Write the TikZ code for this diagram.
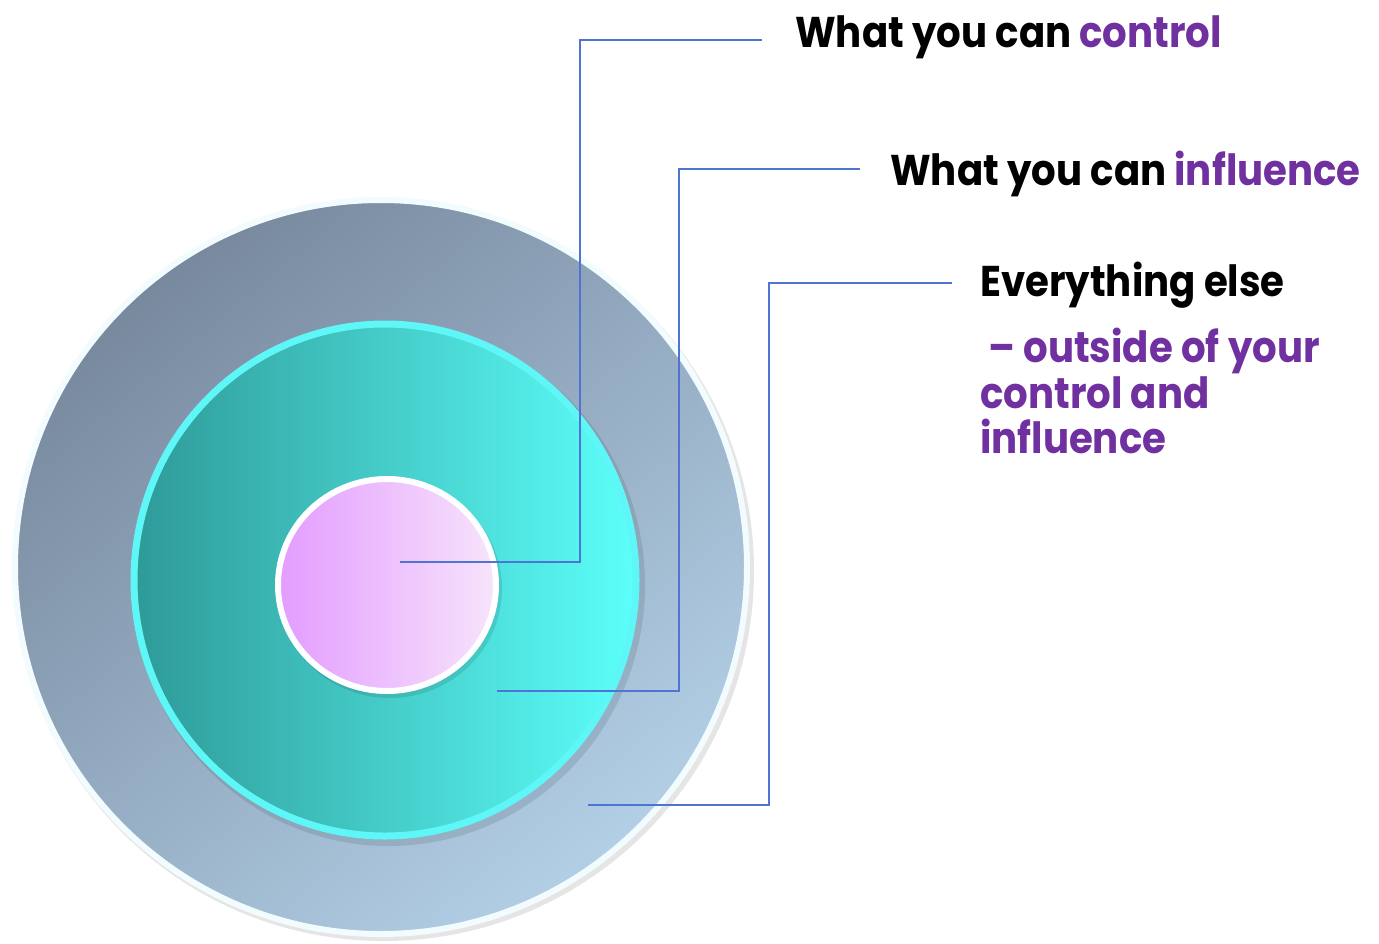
\documentclass[tikz,border=0pt]{standalone}
\usepackage{fontspec}
\setmainfont{Poppins}[FakeStretch=0.9]
\usetikzlibrary{shadings}
\definecolor{purp}{HTML}{7030A0}
\definecolor{lineblue}{HTML}{4F74D4}
\definecolor{slateA}{HTML}{78899E}
\definecolor{slateB}{HTML}{B2CFE6}
\definecolor{tealA}{HTML}{2E9A98}
\definecolor{tealB}{HTML}{5CFFFA}
\definecolor{pinkA}{HTML}{E39CFF}
\definecolor{pinkB}{HTML}{F7E4FB}
\definecolor{ringcyan}{HTML}{5EF6F6}
\definecolor{ringwhite}{HTML}{F2FBFD}
\begin{document}
\begin{tikzpicture}[x=1pt,y=-1pt,
  lbl/.style={anchor=base west,inner sep=0pt,font=\fontsize{43}{45}\selectfont\bfseries},
  conn/.style={draw=lineblue,line width=1.1pt},
  shadowfill/.style={fill=black,opacity=0.10}]
\useasboundingbox (0,0) rectangle (1379,943);
% outer circle
\fill[shadowfill] (384,571) ellipse [x radius=370pt, y radius=370pt];
\path[top color=slateA,bottom color=slateB,shading angle=40,draw=ringwhite,line width=6pt]
  (381,567) ellipse [x radius=366pt, y radius=367pt];
% middle circle
\fill[shadowfill] (389,585) ellipse [x radius=256pt, y radius=261pt];
\path[left color=tealA,right color=tealB,draw=ringcyan,line width=7pt]
  (385,580) ellipse [x radius=251pt, y radius=256pt];
% inner circle
\fill[shadowfill] (390,589) ellipse [x radius=112pt, y radius=109pt];
\path[left color=pinkA,right color=pinkB,draw=white,line width=6pt]
  (387,585) ellipse [x radius=109pt, y radius=106pt];
% anchors
\coordinate (c1) at (400,562);
\coordinate (c2) at (497,691);
\coordinate (c3) at (588,805);
% labels
\node[lbl] (t1) at (795,47) {What you can \textcolor{purp}{control}};
\node[lbl] (t2) at (890,185) {What you can \textcolor{purp}{influence}};
\node[lbl] (t3) at (980,296) {Everything else};
\node[lbl,text=purp] (t4) at (980,362) {\ – outside of your};
\node[lbl,text=purp] (t5) at (980,408) {control and};
\node[lbl,text=purp] (t6) at (980,453) {influence};
% connectors
\coordinate (e1) at (762,40);
\coordinate (e2) at (860,169);
\coordinate (e3) at (952,283);
\draw[conn] (c1) -| (580,40) -- (e1);
\draw[conn] (c2) -| (679,169) -- (e2);
\draw[conn] (c3) -| (769,283) -- (e3);
\end{tikzpicture}
\end{document}
